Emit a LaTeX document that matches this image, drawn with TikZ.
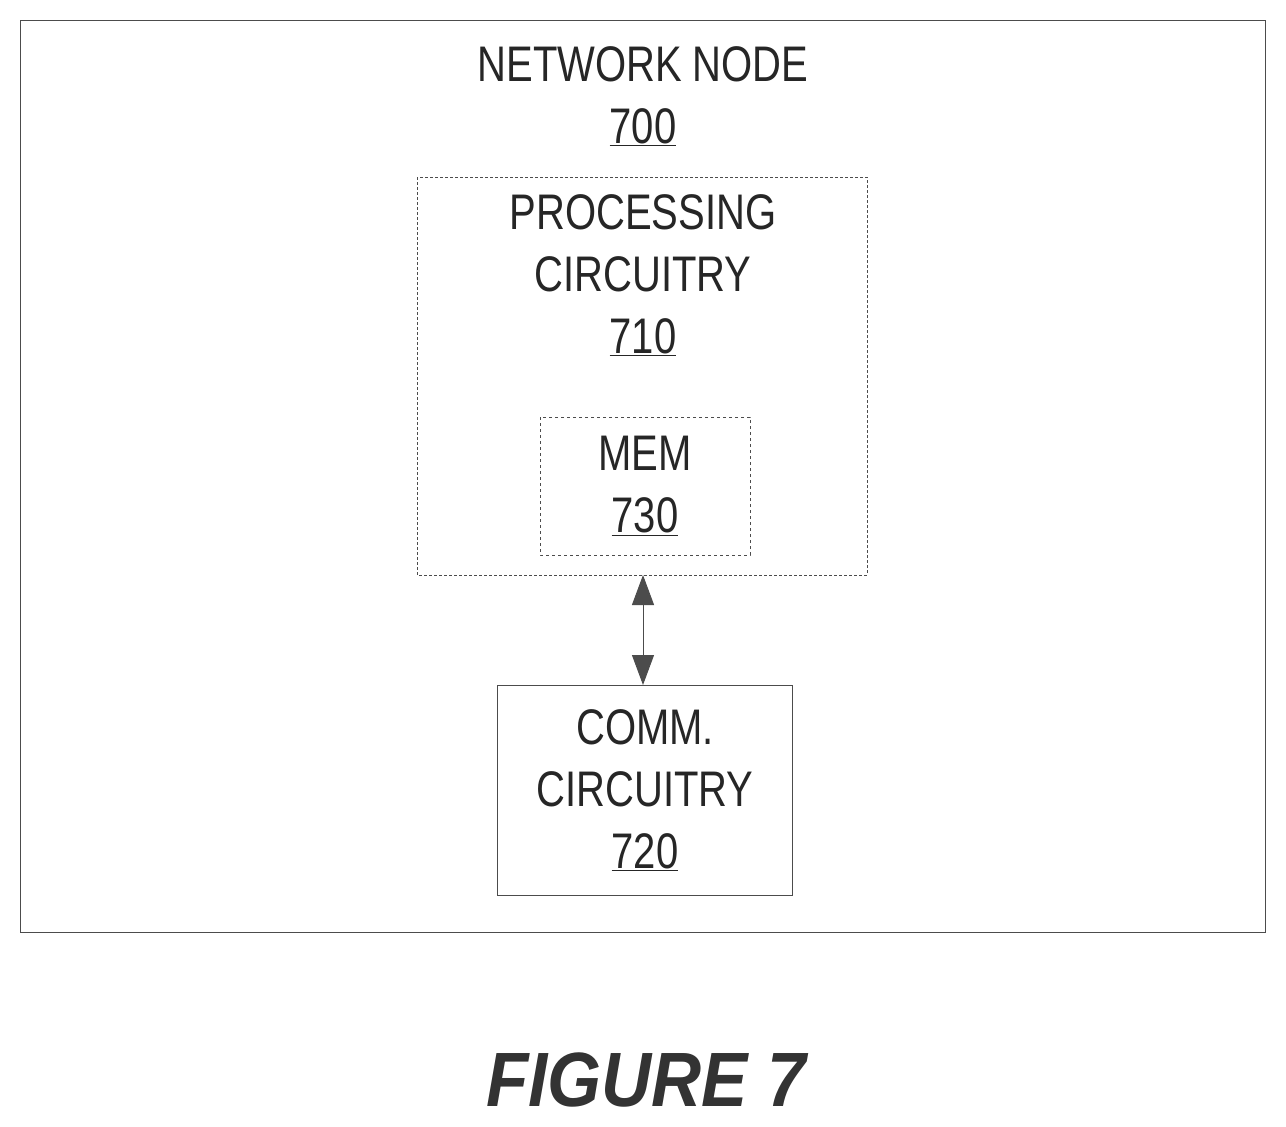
\documentclass[tikz,border=0pt]{standalone}
\usepackage{fontspec}
\setmainfont{Liberation Sans}[FakeStretch=0.8]
\newfontfamily\figfont{Liberation Sans}[FakeStretch=0.9]
\usetikzlibrary{arrows.meta}
\begin{document}
\begin{tikzpicture}[x=1pt,y=-1pt,
  lbl/.style={font=\fontsize{50}{62}\selectfont,align=center,inner sep=0,text=black!85},
  box/.style={draw=black!70,line width=1pt}]
\useasboundingbox (0,0) rectangle (1286,1127);
\fill[white] (0,0) rectangle (1286,1127);
\draw[box] (20,20) rectangle (1265,932);
\node[lbl] (nn) at (643,96) {NETWORK NODE\\\underline{700}};
\draw[box,densely dashed,line width=0.8pt] (417,177) coordinate (pa) rectangle (867,575) coordinate (pb);
\node[lbl] (pc) at (643,275) {PROCESSING\\CIRCUITRY\\\underline{710}};
\draw[box,dashed,line width=0.8pt] (540,417) rectangle (750,555);
\node[lbl] (mem) at (645,486) {MEM\\\underline{730}};
\draw[box] (497,685) rectangle (792,895);
\node[lbl] (cc) at (645,790) {COMM.\\CIRCUITRY\\\underline{720}};
\coordinate (t) at (643,575);
\coordinate (b) at (643,685);
\draw[black!70,line width=1pt,{Triangle[length=30pt,width=22pt]}-{Triangle[length=30pt,width=22pt]}] (t) -- (b);
\node[font=\figfont\fontsize{77}{77}\selectfont\bfseries\itshape,text=black!80] (fig) at (646,1080) {FIGURE 7};
\end{tikzpicture}
\end{document}
